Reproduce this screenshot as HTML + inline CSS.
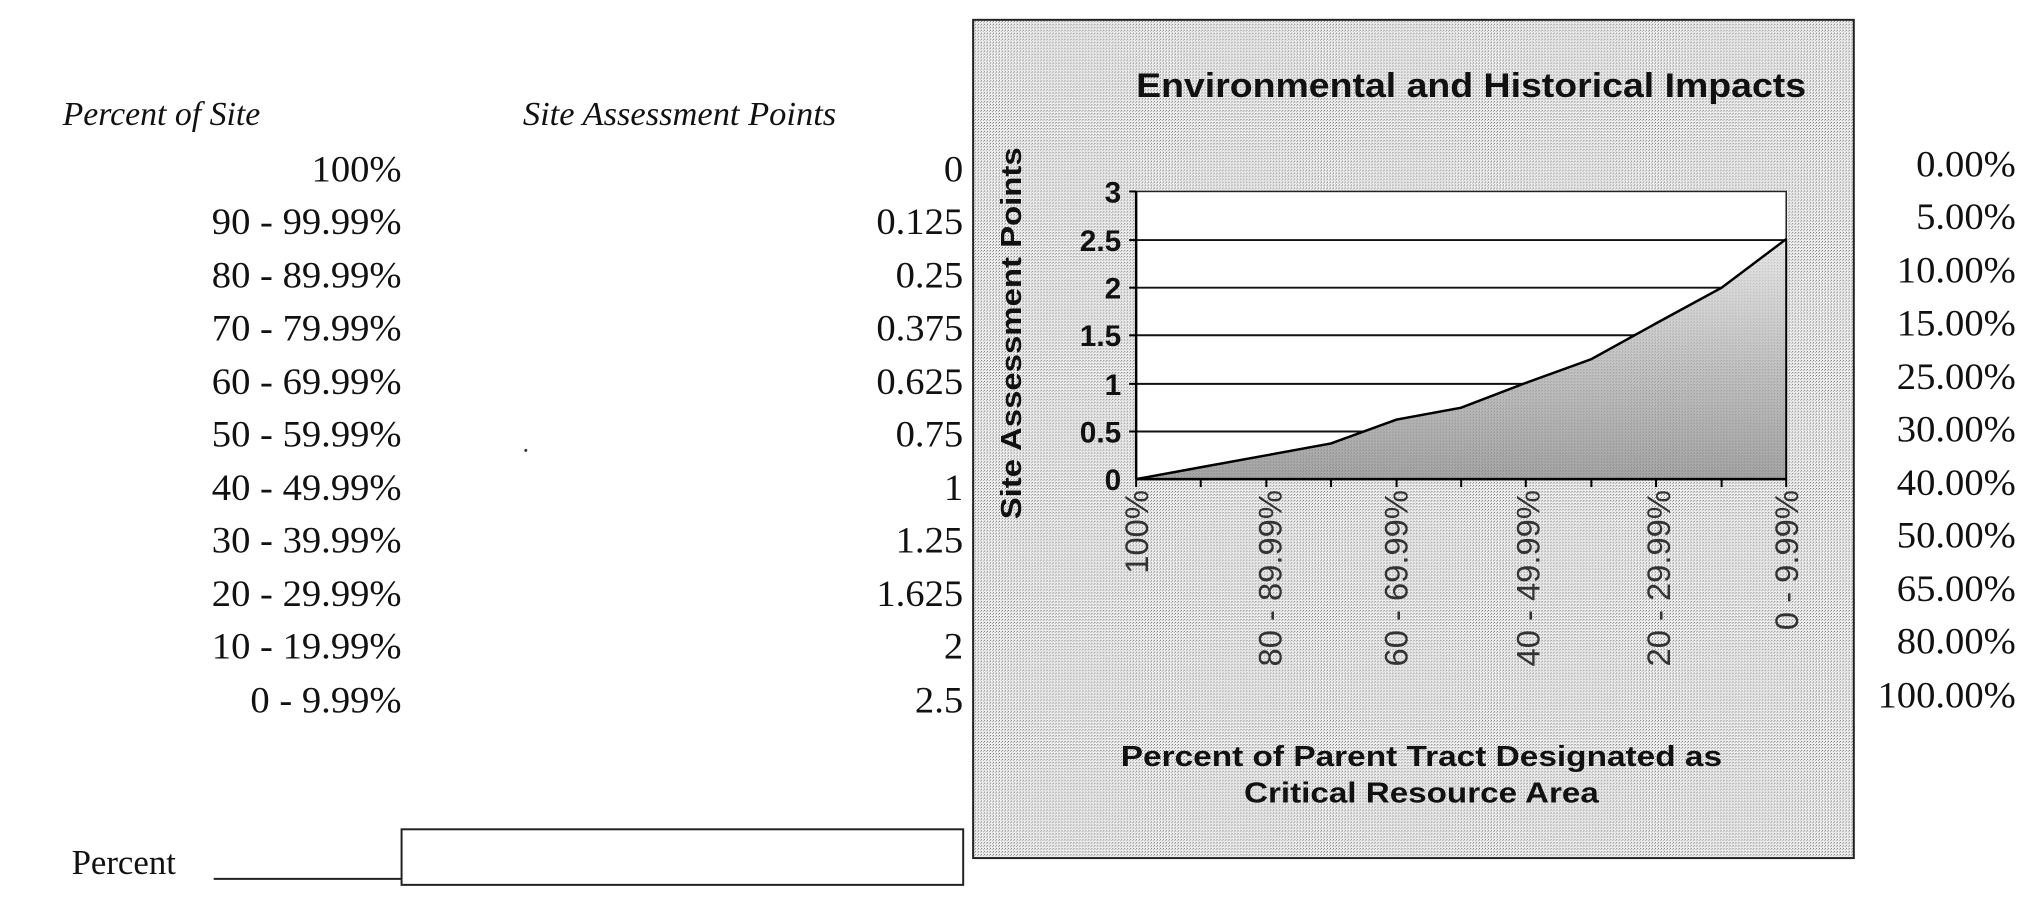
<!DOCTYPE html>
<html><head><meta charset="utf-8"><style>html,body{margin:0;padding:0;background:#fff}svg{display:block}</style></head>
<body>
<svg width="2037" height="917" viewBox="0 0 2037 917" xmlns="http://www.w3.org/2000/svg">
<defs>
<pattern id="dots" width="3" height="3" patternUnits="userSpaceOnUse">
<rect width="3" height="3" fill="#eeeeee"/><rect x="0" y="0" width="1" height="1" fill="#777"/><rect x="2" y="1" width="1" height="1" fill="#aaa"/>
</pattern>
<linearGradient id="fillg" x1="0" y1="0" x2="0" y2="1">
<stop offset="0" stop-color="#e6e6e6"/><stop offset="0.5" stop-color="#b0b0b0"/><stop offset="1" stop-color="#808080"/>
</linearGradient>
</defs>
<g transform="scale(0.994,0.992)">
<g font-family="Liberation Serif, serif" fill="#111">
<g transform="translate(63,126) scale(1.0,1)"><text x="0" y="0" font-size="34" font-style="italic">Percent of Site</text></g>
<g transform="translate(526,126) scale(1.02,1)"><text x="0" y="0" font-size="34" font-style="italic">Site Assessment Points</text></g>
<g transform="translate(404,0) scale(1.05,1)" font-size="37" text-anchor="end">
<text y="183">100%</text><text y="236">90 - 99.99%</text><text y="290">80 - 89.99%</text><text y="343">70 - 79.99%</text><text y="397">60 - 69.99%</text><text y="450">50 - 59.99%</text><text y="504">40 - 49.99%</text><text y="557">30 - 39.99%</text><text y="611">20 - 29.99%</text><text y="664">10 - 19.99%</text><text y="718">0 - 9.99%</text>
</g>
<g transform="translate(969,0) scale(1.05,1)" font-size="37" text-anchor="end">
<text y="183">0</text><text y="236">0.125</text><text y="290">0.25</text><text y="343">0.375</text><text y="397">0.625</text><text y="450">0.75</text><text y="504">1</text><text y="557">1.25</text><text y="611">1.625</text><text y="664">2</text><text y="718">2.5</text>
</g>
<g transform="translate(2028,0) scale(1.05,1)" font-size="37" text-anchor="end">
<text y="178">0.00%</text><text y="231">5.00%</text><text y="285">10.00%</text><text y="338">15.00%</text><text y="392">25.00%</text><text y="445">30.00%</text><text y="499">40.00%</text><text y="552">50.00%</text><text y="606">65.00%</text><text y="659">80.00%</text><text y="713">100.00%</text>
</g>
<g transform="translate(72,881) scale(1.0,1)"><text x="0" y="0" font-size="35">Percent</text></g>
</g>
<line x1="215" y1="886" x2="404" y2="886" stroke="#222" stroke-width="2"/>
<rect x="404" y="836" width="565" height="56" fill="#fff" stroke="#222" stroke-width="2"/>
<circle cx="529" cy="454" r="1.5" fill="#333"/>
<rect x="979" y="20" width="886" height="845" fill="url(#dots)" stroke="#222" stroke-width="2"/>
<rect x="1143" y="193" width="654" height="290" fill="#fff" stroke="#222" stroke-width="1.5"/>
<g stroke="#111" stroke-width="2">
<line x1="1143" y1="242" x2="1797" y2="242"/><line x1="1143" y1="290" x2="1797" y2="290"/><line x1="1143" y1="338" x2="1797" y2="338"/><line x1="1143" y1="387" x2="1797" y2="387"/><line x1="1143" y1="435" x2="1797" y2="435"/>
</g>
<polygon points="1143,483 1208,471 1274,459 1339,447 1405,423 1470,411 1535,386 1601,362 1666,326 1732,290 1797,241 1797,483" fill="url(#fillg)"/>
<polygon points="1143,483 1208,471 1274,459 1339,447 1405,423 1470,411 1535,386 1601,362 1666,326 1732,290 1797,241 1797,483" fill="url(#dots)" opacity="0.35"/>
<polyline points="1143,483 1208,471 1274,459 1339,447 1405,423 1470,411 1535,386 1601,362 1666,326 1732,290 1797,241" fill="none" stroke="#000" stroke-width="2.5"/>
<line x1="1143" y1="193" x2="1143" y2="483" stroke="#000" stroke-width="2.5"/>
<line x1="1143" y1="483" x2="1797" y2="483" stroke="#000" stroke-width="2.5"/>
<line x1="1797" y1="241" x2="1797" y2="483" stroke="#000" stroke-width="2"/>
<g stroke="#000" stroke-width="2">
<line x1="1143" y1="483" x2="1143" y2="491"/><line x1="1208" y1="483" x2="1208" y2="491"/><line x1="1274" y1="483" x2="1274" y2="491"/><line x1="1339" y1="483" x2="1339" y2="491"/><line x1="1405" y1="483" x2="1405" y2="491"/><line x1="1470" y1="483" x2="1470" y2="491"/><line x1="1535" y1="483" x2="1535" y2="491"/><line x1="1601" y1="483" x2="1601" y2="491"/><line x1="1666" y1="483" x2="1666" y2="491"/><line x1="1732" y1="483" x2="1732" y2="491"/><line x1="1797" y1="483" x2="1797" y2="491"/>
<line x1="1136" y1="193" x2="1143" y2="193"/><line x1="1136" y1="242" x2="1143" y2="242"/><line x1="1136" y1="290" x2="1143" y2="290"/><line x1="1136" y1="338" x2="1143" y2="338"/><line x1="1136" y1="387" x2="1143" y2="387"/><line x1="1136" y1="435" x2="1143" y2="435"/>
</g>
<g font-family="Liberation Sans, sans-serif" font-weight="bold" fill="#111">
<text x="1480" y="98" font-size="35" text-anchor="middle" textLength="674" lengthAdjust="spacingAndGlyphs">Environmental and Historical Impacts</text>
<g font-size="30" text-anchor="end">
<text x="1128" y="204">3</text><text x="1128" y="253">2.5</text><text x="1128" y="301">2</text><text x="1128" y="349">1.5</text><text x="1128" y="398">1</text><text x="1128" y="446">0.5</text><text x="1128" y="494">0</text>
</g>
<text transform="translate(1027,336) rotate(-90)" font-size="29" text-anchor="middle" textLength="375" lengthAdjust="spacingAndGlyphs">Site Assessment Points</text>
<text x="1430" y="772" font-size="29" text-anchor="middle" textLength="605" lengthAdjust="spacingAndGlyphs">Percent of Parent Tract Designated as</text>
<text x="1430" y="809" font-size="29" text-anchor="middle" textLength="357" lengthAdjust="spacingAndGlyphs">Critical Resource Area</text>
</g>
<g font-family="Liberation Sans, sans-serif" font-size="33" fill="#333" text-anchor="end">
<text transform="translate(1155,494) rotate(-90)">100%</text>
<text transform="translate(1289,494) rotate(-90)">80 - 89.99%</text>
<text transform="translate(1416,494) rotate(-90)">60 - 69.99%</text>
<text transform="translate(1549,494) rotate(-90)">40 - 49.99%</text>
<text transform="translate(1680,494) rotate(-90)">20 - 29.99%</text>
<text transform="translate(1809,494) rotate(-90)">0 - 9.99%</text>
</g>
</g>
</svg>
</body></html>
